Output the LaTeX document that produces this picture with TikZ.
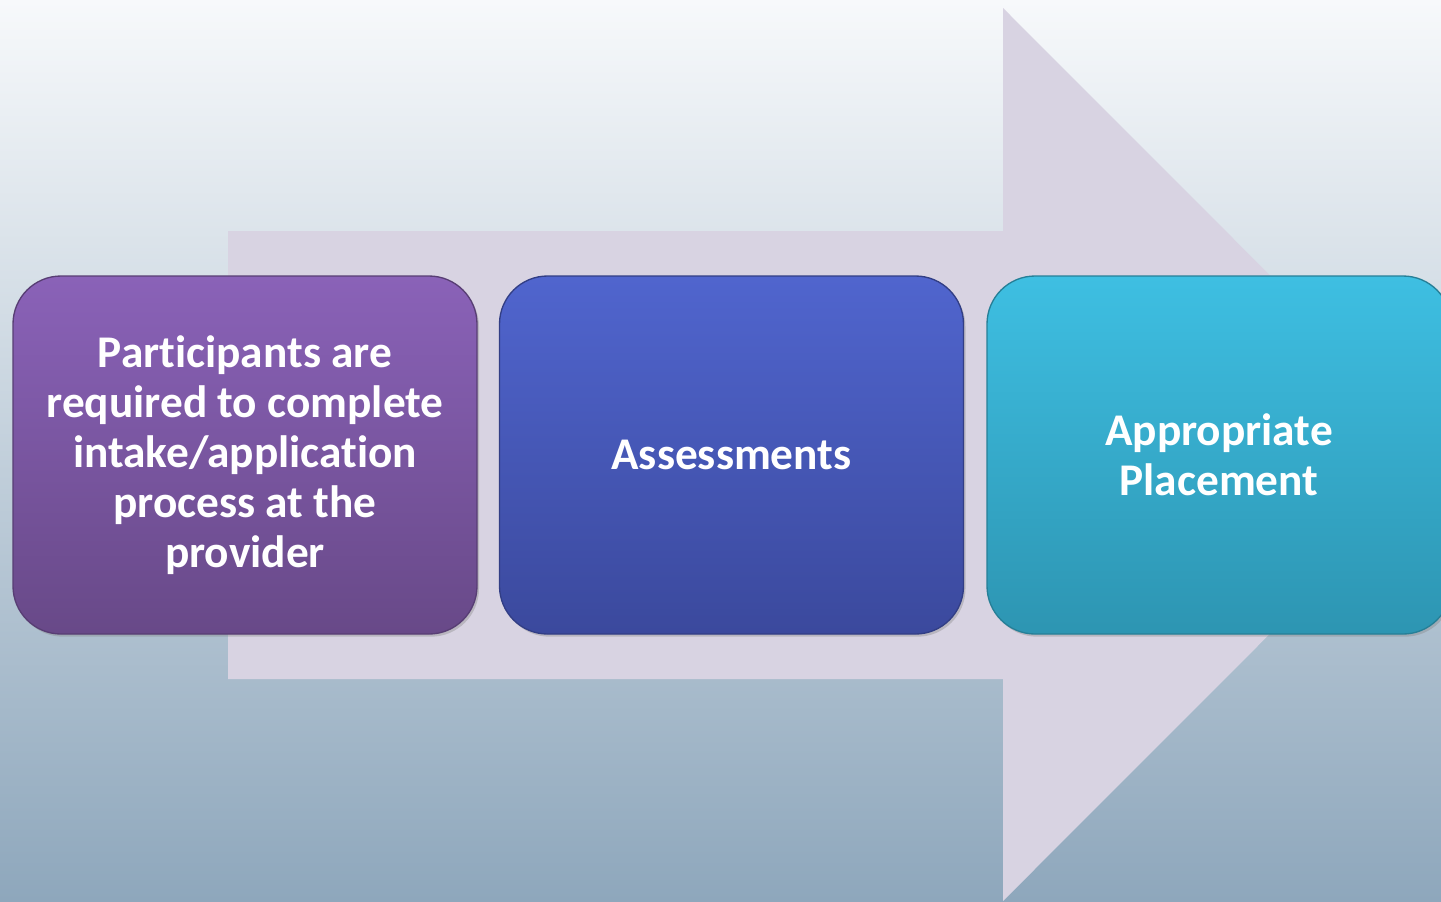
\documentclass[tikz,border=0pt]{standalone}
\usepackage{fontspec}
\setmainfont{Carlito}[Ligatures=NoCommon]
\usetikzlibrary{shadows}

\definecolor{bgtop}{RGB}{247,249,251}
\definecolor{bgbot}{RGB}{142,167,188}
\definecolor{arrowfill}{RGB}{216,211,226}
\definecolor{purpletop}{RGB}{138,98,184}
\definecolor{purplebot}{RGB}{104,73,136}
\definecolor{bluetop}{RGB}{80,101,206}
\definecolor{bluebot}{RGB}{59,73,157}
\definecolor{cyantop}{RGB}{62,191,226}
\definecolor{cyanbot}{RGB}{45,149,178}

\tikzset{every picture/.style={line width=0.75pt}}
\tikzset{
  stepbox/.style={rounded corners=36pt, minimum width=348pt, minimum height=268.5pt,
    align=center, text=white, font=\fontsize{34}{37.5}\selectfont\bfseries,
    line width=1pt, drop shadow={shadow xshift=1.5pt, shadow yshift=-2pt, opacity=0.35}},
}

\begin{document}
\begin{tikzpicture}[x=0.75pt,y=0.75pt,yscale=-1,xscale=1]
        \useasboundingbox (0,0) rectangle (1441,901);

        %Background
        \shade [top color=bgtop, bottom color=bgbot] (0,0) rectangle (1441,901);

        %Shape: Big Arrow
        \fill [arrowfill] (228,231) -- (1003,231) -- (1003,8) -- (1449,454.5) -- (1003,901) -- (1003,679) -- (228,679) -- cycle ;

        % Step boxes
        \node [stepbox, draw=purplebot!85!black, top color=purpletop, bottom color=purplebot] (participants) at (245,455)
            {Participants are\\required to complete\\intake/application\\process at the\\provider};
        \node [stepbox, draw=bluebot!85!black, top color=bluetop, bottom color=bluebot] (assessments) at (731.5,455)
            {Assessments};
        \node [stepbox, draw=cyanbot!85!black, top color=cyantop, bottom color=cyanbot] (placement) at (1219,455)
            {Appropriate\\Placement};

\end{tikzpicture}
\end{document}
